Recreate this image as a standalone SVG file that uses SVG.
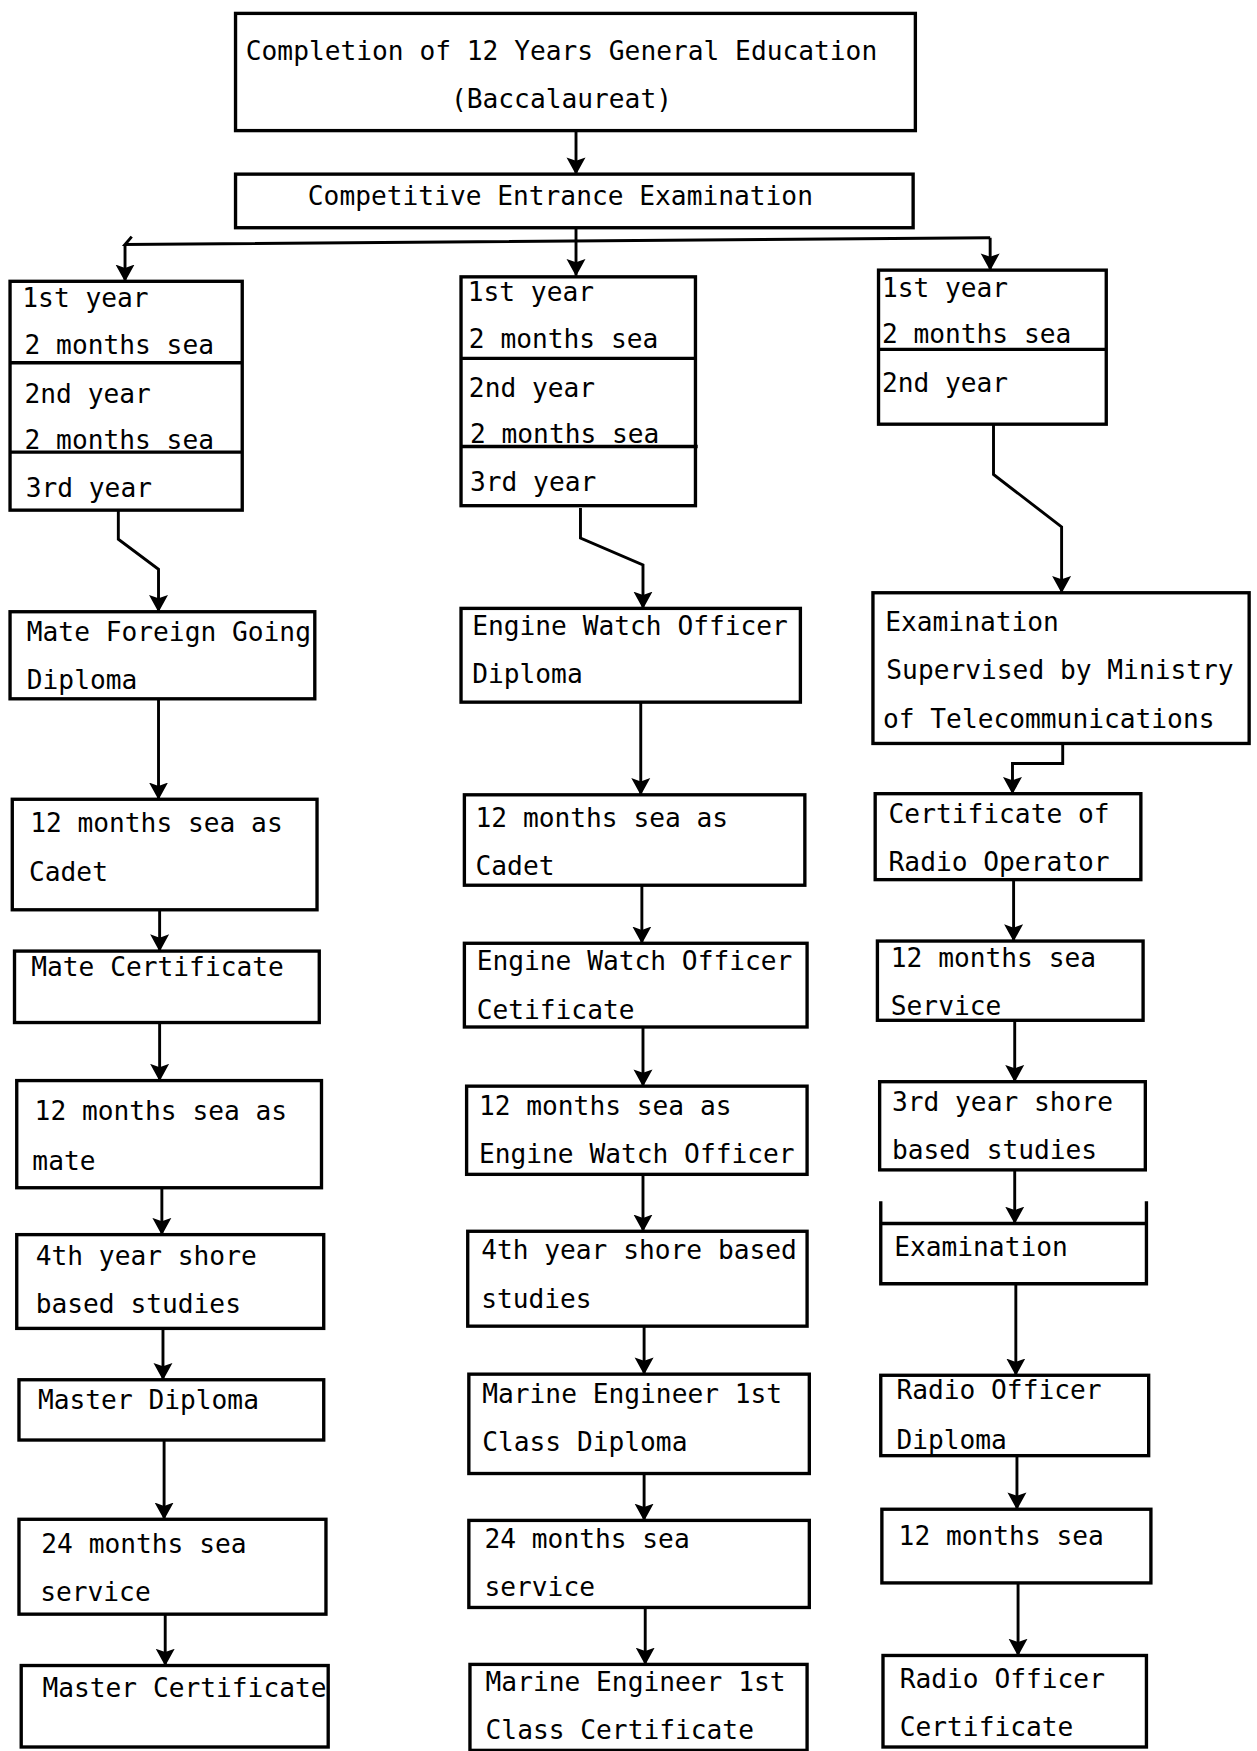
<svg xmlns="http://www.w3.org/2000/svg" width="1257" height="1751" viewBox="0 0 1257 1751">
<defs>
<style>
.b{fill:none;stroke:#000;stroke-width:3;stroke-linejoin:miter}
.c{fill:none;stroke:#000;stroke-width:2.6}
text{font-family:"DejaVu Sans Mono","Liberation Mono",monospace;font-size:23.5px;fill:#000}
.m{text-anchor:middle}
</style>
<marker id="a" markerUnits="userSpaceOnUse" markerWidth="16" markerHeight="18" refX="15" refY="9" orient="auto" viewBox="0 0 16 18">
<path d="M0,0.5 L15.5,9 L0,17.5 L3,9 Z" fill="#000"/>
</marker>
</defs>
<rect width="1257" height="1751" fill="#fff"/>
<g transform="scale(1.1163)">
<g id="connectors">
<path class="c" d="M516,117 V156" marker-end="url(#a)"/>
<path class="c" d="M516,204 V247" marker-end="url(#a)"/>
<path class="c" d="M118,212 L112,219 L887,213"/>
<path class="c" d="M112,219 V252" marker-end="url(#a)"/>
<path class="c" d="M887,213 V242" marker-end="url(#a)"/>
<path class="c" d="M106,457 V483 L142,510 V548" marker-end="url(#a)"/>
<path class="c" d="M520,455 V482 L576,506 V545" marker-end="url(#a)"/>
<path class="c" d="M890,380 V425 L951,472 V531" marker-end="url(#a)"/>
<path class="c" d="M142,626 V716" marker-end="url(#a)"/>
<path class="c" d="M143,815 V852" marker-end="url(#a)"/>
<path class="c" d="M143,916 V968" marker-end="url(#a)"/>
<path class="c" d="M145,1064 V1106" marker-end="url(#a)"/>
<path class="c" d="M146,1190 V1236" marker-end="url(#a)"/>
<path class="c" d="M147,1290 V1361" marker-end="url(#a)"/>
<path class="c" d="M148,1446 V1492" marker-end="url(#a)"/>
<path class="c" d="M574,629 V712" marker-end="url(#a)"/>
<path class="c" d="M575,793 V845" marker-end="url(#a)"/>
<path class="c" d="M576,920 V973" marker-end="url(#a)"/>
<path class="c" d="M576,1052 V1103" marker-end="url(#a)"/>
<path class="c" d="M577,1188 V1231" marker-end="url(#a)"/>
<path class="c" d="M577,1320 V1362" marker-end="url(#a)"/>
<path class="c" d="M578,1440 V1491" marker-end="url(#a)"/>
<path class="c" d="M952,666 V684 H907 V711" marker-end="url(#a)"/>
<path class="c" d="M908,788 V843" marker-end="url(#a)"/>
<path class="c" d="M909,914 V969" marker-end="url(#a)"/>
<path class="c" d="M909,1048 V1096" marker-end="url(#a)"/>
<path class="c" d="M910,1150 V1232" marker-end="url(#a)"/>
<path class="c" d="M911,1304 V1352" marker-end="url(#a)"/>
<path class="c" d="M912,1418 V1483" marker-end="url(#a)"/>
</g>
<g id="n-completion"><rect class="b" x="211" y="12" width="609" height="105"/><text class="m" x="503" y="54">Completion of 12 Years General Education</text><text class="m" x="503" y="97">(Baccalaureat)</text></g>
<g id="n-entrance"><rect class="b" x="211" y="156" width="607" height="48"/><text class="m" x="502" y="184">Competitive Entrance Examination</text></g>

<g id="n-deck-years"><rect class="b" x="9" y="252" width="208" height="205"/><path class="b" d="M9,325 H217 M9,405 H217"/>
<text x="20" y="275">1st year</text><text x="22" y="317">2 months sea</text><text x="22" y="361">2nd year</text><text x="22" y="402">2 months sea</text><text x="23" y="445">3rd year</text></g>
<g id="n-engine-years"><rect class="b" x="413" y="248" width="210" height="205"/><path class="b" d="M413,321 H623 M413,400 H625"/>
<text x="419" y="270">1st year</text><text x="420" y="312">2 months sea</text><text x="420" y="356">2nd year</text><text x="421" y="397">2 months sea</text><text x="421" y="440">3rd year</text></g>
<g id="n-radio-years"><rect class="b" x="787" y="242" width="204" height="138"/><path class="b" d="M787,313 H991"/>
<text x="790" y="266">1st year</text><text x="790" y="307">2 months sea</text><text x="790" y="351">2nd year</text></g>

<g id="n-mate-diploma"><rect class="b" x="9" y="548" width="273" height="78"/><text x="24" y="574">Mate Foreign Going</text><text x="24" y="617">Diploma</text></g>
<g id="n-cadet-deck"><rect class="b" x="11" y="716" width="273" height="99"/><text x="27" y="745">12 months sea as</text><text x="26" y="789">Cadet</text></g>
<g id="n-mate-cert"><rect class="b" x="13" y="852" width="273" height="64"/><text x="28" y="874">Mate Certificate</text></g>
<g id="n-sea-mate"><rect class="b" x="15" y="968" width="273" height="96"/><text x="31" y="1003">12 months sea as</text><text x="29" y="1048">mate</text></g>
<g id="n-4th-deck"><rect class="b" x="15" y="1106" width="275" height="84"/><text x="32" y="1133">4th year shore</text><text x="32" y="1176">based studies</text></g>
<g id="n-master-diploma"><rect class="b" x="17" y="1236" width="273" height="54"/><text x="34" y="1262">Master Diploma</text></g>
<g id="n-24-deck"><rect class="b" x="17" y="1361" width="275" height="85"/><text x="37" y="1391">24 months sea</text><text x="36" y="1434">service</text></g>
<g id="n-master-cert"><rect class="b" x="19" y="1492" width="275" height="73"/><text x="38" y="1520">Master Certificate</text></g>

<g id="n-ewo-diploma"><rect class="b" x="413" y="545" width="304" height="84"/><text x="423" y="569">Engine Watch Officer</text><text x="423" y="612">Diploma</text></g>
<g id="n-cadet-eng"><rect class="b" x="416" y="712" width="305" height="81"/><text x="426" y="741">12 months sea as</text><text x="426" y="784">Cadet</text></g>
<g id="n-ewo-cert"><rect class="b" x="416" y="845" width="307" height="75"/><text x="427" y="869">Engine Watch Officer</text><text x="427" y="913">Cetificate</text></g>
<g id="n-sea-ewo"><rect class="b" x="418" y="973" width="305" height="79"/><text x="429" y="999">12 months sea as</text><text x="429" y="1042">Engine Watch Officer</text></g>
<g id="n-4th-eng"><rect class="b" x="419" y="1103" width="304" height="85"/><text x="431" y="1128">4th year shore based</text><text x="431" y="1172">studies</text></g>
<g id="n-me-diploma"><rect class="b" x="420" y="1231" width="305" height="89"/><text x="432" y="1257">Marine Engineer 1st</text><text x="432" y="1300">Class Diploma</text></g>
<g id="n-24-eng"><rect class="b" x="420" y="1362" width="305" height="78"/><text x="434" y="1387">24 months sea</text><text x="434" y="1430">service</text></g>
<g id="n-me-cert"><rect class="b" x="421" y="1491" width="302" height="77"/><text x="435" y="1515">Marine Engineer 1st</text><text x="435" y="1558">Class Certificate</text></g>

<g id="n-telecom-exam"><rect class="b" x="782" y="531" width="337" height="135"/><text x="793" y="565">Examination</text><text x="794" y="608">Supervised by Ministry</text><text x="791" y="652">of Telecommunications</text></g>
<g id="n-radio-operator"><rect class="b" x="784" y="711" width="238" height="77"/><text x="796" y="737">Certificate of</text><text x="796" y="780">Radio Operator</text></g>
<g id="n-sea-radio"><rect class="b" x="786" y="843" width="238" height="71"/><text x="798" y="866">12 months sea</text><text x="798" y="909">Service</text></g>
<g id="n-3rd-radio"><rect class="b" x="788" y="969" width="238" height="79"/><text x="799" y="995">3rd year shore</text><text x="799" y="1038">based studies</text></g>
<g id="n-exam-radio"><path class="b" d="M789,1076 V1150 H1027 V1076 M789,1096 H1027"/><text x="801" y="1125">Examination</text></g>
<g id="n-ro-diploma"><rect class="b" x="789" y="1232" width="240" height="72"/><text x="803" y="1253">Radio Officer</text><text x="803" y="1298">Diploma</text></g>
<g id="n-12-radio"><rect class="b" x="790" y="1352" width="241" height="66"/><text x="805" y="1384">12 months sea</text></g>
<g id="n-ro-cert"><rect class="b" x="791" y="1483" width="236" height="82"/><text x="806" y="1512">Radio Officer</text><text x="806" y="1555">Certificate</text></g>
</g>
</svg>
